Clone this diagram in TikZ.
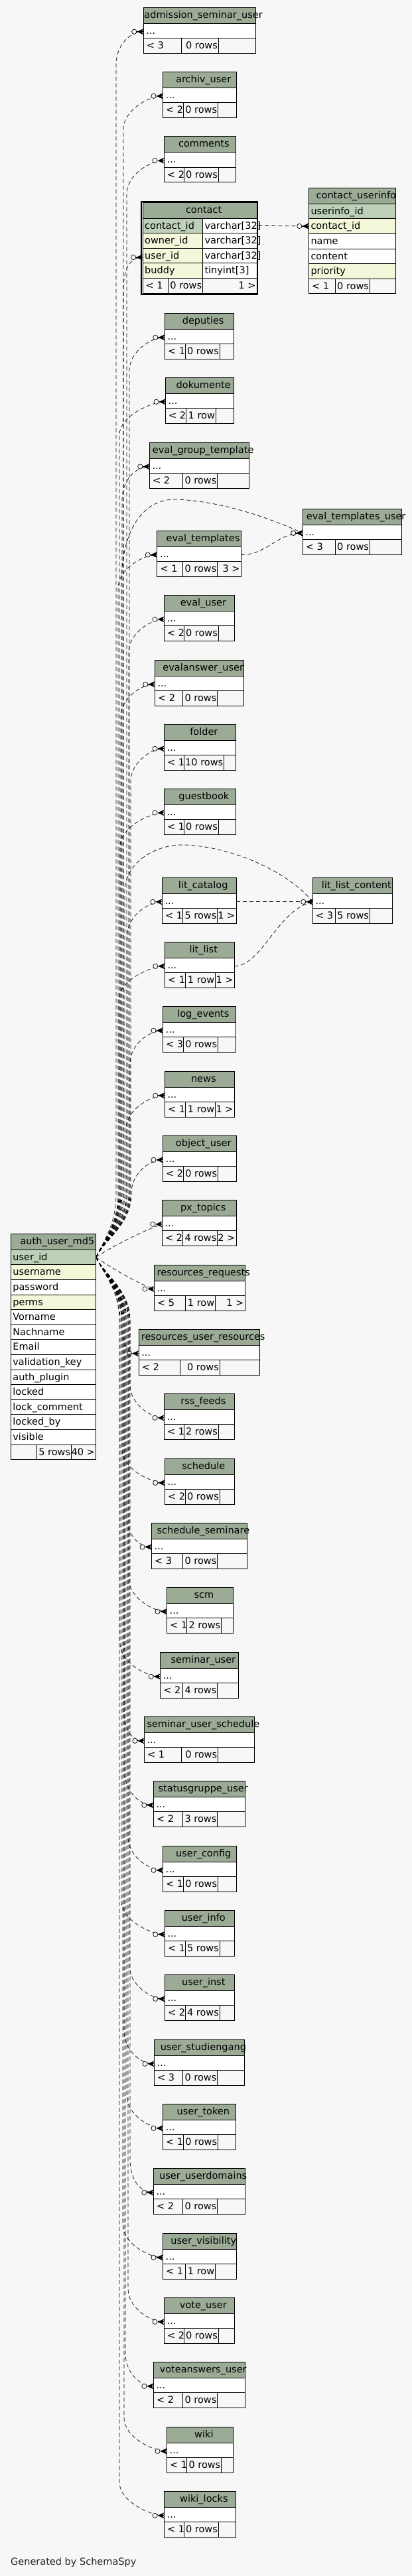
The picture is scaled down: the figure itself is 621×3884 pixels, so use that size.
\documentclass[tikz,border=0pt]{standalone}
\usepackage{fontspec}
\setmainfont{DejaVu Sans}
\usetikzlibrary{calc}
\definecolor{bgcol}{HTML}{F7F7F7}
\definecolor{hdrcol}{HTML}{9BAB96}
\definecolor{pkcol}{HTML}{BED1B8}
\definecolor{idxcol}{HTML}{F4F7DA}
\tikzset{
  tline/.style={draw=black,line width=0.9pt},
  fkline/.style={black,line width=0.7pt,dash pattern=on 6pt off 4pt},
  tabtext/.style={inner sep=0pt,font=\fontsize{14.5}{17}\selectfont,text=black},
}
% header bar of a table: name, left, right, top
\newcommand{\thead}[4]{%
  \path[fill=hdrcol] (#2,#4) rectangle (#3,#4+24);
  \draw[tline] (#2,#4) rectangle (#3,#4+24);
  \node[tabtext,anchor=base] (#1) at ({(#2+#3)/2+6},#4+16) {\detokenize{#1}};
}
% footer: left, right, top, split1, split2, three texts
\newcommand{\tfoot}[8]{%
  \path[fill=bgcol] (#1,#3) rectangle (#2,#3+22.6);
  \draw[tline] (#1,#3) rectangle (#2,#3+22.6) (#4,#3) -- (#4,#3+22.6) (#5,#3) -- (#5,#3+22.6);
  \node[tabtext,anchor=base west] at (#1+4.5,#3+16) {#6};
  \node[tabtext,anchor=base east] at (#5-1,#3+16) {#7};
  \node[tabtext,anchor=base east] at (#2-1.5,#3+16) {#8};
}
% one column cell: left, right, top, fill, text
\newcommand{\colrow}[5]{%
  \path[fill=#4] (#1,#3) rectangle (#2,#3+22.6);
  \draw[tline] (#1,#3) rectangle (#2,#3+22.6);
  \node[tabtext,anchor=base west] at (#1+3,#3+16) {#5};
}
% collapsed table: name, left, right, top, split1, split2, footer texts
\newcommand{\stab}[9]{%
  \thead{#1}{#2}{#3}{#4}
  \path[fill=white] (#2,#4+24) rectangle (#3,#4+46.5);
  \draw[tline] (#2,#4+24) rectangle (#3,#4+46.5);
  \node[tabtext,anchor=base west] at (#2+4,#4+40) {...};
  \coordinate (#1-in) at (#2,#4+36.5);
  \coordinate (#1-out) at (#3,#4+36.5);
  \tfoot{#2}{#3}{#4+46.5}{#5}{#6}{#7}{#8}{#9}
}
% zero-or-many end
\newcommand{\crow}[1]{%
  \draw[line width=0.7pt] ([xshift=-10pt]#1) -- (#1);
  \fill ([xshift=-10pt]#1) -- ([yshift=4.5pt]#1) -- ([xshift=-2.5pt]#1) -- ([yshift=-4.5pt]#1) -- cycle;
  \filldraw[fill=bgcol,line width=0.7pt] ([xshift=-14pt]#1) circle[radius=3.6pt];
}
\newcommand{\fkup}[2]{%
  \draw[fkline] let \p1=(auth-uid), \p2=(#1) in
    (auth-uid) .. controls (\x1+12pt,\y1+25pt) and (#2pt,\y1+50pt) .. (#2pt,\y1+95pt)
    -- (#2pt,\y2-50pt) .. controls (#2pt,\y2-22pt) and (\x2-22pt,\y2) .. (#1);
  \crow{#1}
}
\newcommand{\fkdown}[2]{%
  \draw[fkline] let \p1=(auth-uid), \p2=(#1) in
    (auth-uid) .. controls (\x1+12pt,\y1-25pt) and (#2pt,\y1-50pt) .. (#2pt,\y1-95pt)
    -- (#2pt,\y2+50pt) .. controls (#2pt,\y2+22pt) and (\x2-22pt,\y2) .. (#1);
  \crow{#1}
}
\newcommand{\fknear}[3]{%
  \draw[fkline] (auth-uid) .. controls +(20pt,#2pt) and +(-25pt,#3pt) .. (#1);
  \crow{#1}
}

\begin{document}
\begin{tikzpicture}[x=1pt,y=-1pt]
  \useasboundingbox (0,0) rectangle (621,3884);
  \fill[bgcol] (0,0) rectangle (621,3884);

  % tables of the middle column
  \stab{admission_seminar_user}{216.2}{385}{11.3}{273.3}{329.1}{< 3}{0 rows}{}
  \stab{archiv_user}{245.5}{356}{108.3}{276}{328.3}{< 2}{0 rows}{}
  \stab{comments}{247.5}{355.2}{205.7}{277.2}{329.1}{< 2}{0 rows}{}
  \stab{deputies}{248.3}{352}{472.3}{279.2}{331}{< 1}{0 rows}{}
  \stab{dokumente}{249.5}{352}{569.3}{280.4}{325.1}{< 2}{1 row}{}
  \stab{eval_group_template}{225.3}{375}{667}{275.2}{327.5}{< 2}{0 rows}{}
  \stab{eval_templates}{236.8}{363.2}{800}{275.2}{327.5}{< 1}{0 rows}{3 >}
  \stab{eval_user}{247.5}{353.3}{897.3}{277.2}{329.1}{< 2}{0 rows}{}
  \stab{evalanswer_user}{233.3}{367.1}{995.3}{275.2}{327.5}{< 2}{0 rows}{}
  \stab{folder}{247.5}{355.2}{1092.3}{277.2}{337.4}{< 1}{10 rows}{}
  \stab{guestbook}{247.5}{355.2}{1189}{277.2}{329.1}{< 1}{0 rows}{}
  \stab{lit_catalog}{244.4}{356}{1323.3}{275.2}{327.5}{< 1}{5 rows}{1 >}
  \stab{lit_list}{248.3}{353.3}{1420.3}{279.2}{324.4}{< 1}{1 row}{1 >}
  \stab{log_events}{245.5}{355.2}{1517.3}{276}{328.3}{< 3}{0 rows}{}
  \stab{news}{248.3}{353.3}{1615.3}{279.2}{324.4}{< 1}{1 row}{1 >}
  \stab{object_user}{245.5}{356}{1712.3}{276}{328.3}{< 2}{0 rows}{}
  \stab{px_topics}{244.4}{356}{1809.3}{275.2}{327.5}{< 2}{4 rows}{2 >}
  \stab{resources_requests}{232.5}{369.1}{1907}{279.2}{324.4}{< 5}{1 row}{1 >}
  \stab{resources_user_resources}{209.1}{391.3}{2004.3}{271.3}{331.1}{< 2}{0 rows}{}
  \stab{rss_feeds}{247.5}{353.3}{2101.3}{277.2}{329.1}{< 1}{2 rows}{}
  \stab{schedule}{248.3}{353.3}{2199.3}{279.2}{331}{< 2}{0 rows}{}
  \stab{schedule_seminare}{228.5}{372.3}{2296}{275.2}{327.5}{< 3}{0 rows}{}
  \stab{scm}{251.5}{351.3}{2393.3}{281.6}{333.5}{< 1}{2 rows}{}
  \stab{seminar_user}{241.6}{359.2}{2491.3}{275.2}{327.5}{< 2}{4 rows}{}
  \stab{seminar_user_schedule}{217.4}{383.4}{2588.3}{273.3}{328.3}{< 1}{0 rows}{}
  \stab{statusgruppe_user}{231.3}{369.1}{2685.3}{275.2}{327.5}{< 2}{3 rows}{}
  \stab{user_config}{245.5}{356}{2783.3}{276}{328.3}{< 1}{0 rows}{}
  \stab{user_info}{248.3}{353.3}{2880}{279.2}{331}{< 1}{5 rows}{}
  \stab{user_inst}{248.3}{353.3}{2977.3}{279.2}{331}{< 2}{4 rows}{}
  \stab{user_studiengang}{232.5}{368.3}{3075.3}{275.2}{327.5}{< 3}{0 rows}{}
  \stab{user_token}{245.5}{355.2}{3172.3}{276}{328.3}{< 1}{0 rows}{}
  \stab{user_userdomains}{231.3}{369.1}{3269.3}{275.2}{327.5}{< 2}{0 rows}{}
  \stab{user_visibility}{245.5}{356}{3367.3}{279.2}{324.4}{< 1}{1 row}{}
  \stab{vote_user}{247.5}{353.3}{3464.3}{277.2}{329.1}{< 2}{0 rows}{}
  \stab{voteanswers_user}{231.3}{369.1}{3561.3}{275.2}{327.5}{< 2}{0 rows}{}
  \stab{wiki}{251.5}{351.3}{3659.3}{281.6}{333.5}{< 1}{0 rows}{}
  \stab{wiki_locks}{247.5}{355.2}{3756.3}{277.2}{329.1}{< 1}{0 rows}{}

  % right column
  \stab{eval_templates_user}{456.2}{605.1}{767.3}{505.3}{557.2}{< 3}{0 rows}{}
  \stab{lit_list_content}{471.3}{591.3}{1323.3}{505.3}{557.2}{< 3}{5 rows}{}

  % contact, the selected table
  \draw[line width=2pt] (213.3,303.7) rectangle (388.4,444.3);
  \thead{contact}{215}{387.3}{305}
  \colrow{215}{305.3}{329}{pkcol}{contact\_id}
  \colrow{305.3}{387.3}{329}{white}{varchar[32]}
  \colrow{215}{305.3}{351.6}{idxcol}{owner\_id}
  \colrow{305.3}{387.3}{351.6}{white}{varchar[32]}
  \colrow{215}{305.3}{374.2}{idxcol}{user\_id}
  \colrow{305.3}{387.3}{374.2}{white}{varchar[32]}
  \colrow{215}{305.3}{396.8}{idxcol}{buddy}
  \colrow{305.3}{387.3}{396.8}{white}{tinyint[3]}
  \tfoot{215}{387.3}{419.4}{253.5}{305.3}{< 1}{0 rows}{1 >}
  \coordinate (contact-in) at (215,388);
  \coordinate (contact-cid) at (389.4,340.4);

  \thead{contact_userinfo}{465.3}{596.4}{283.3}
  \colrow{465.3}{596.4}{307.3}{pkcol}{userinfo\_id}
  \colrow{465.3}{596.4}{329.9}{idxcol}{contact\_id}
  \colrow{465.3}{596.4}{352.5}{white}{name}
  \colrow{465.3}{596.4}{375.1}{white}{content}
  \colrow{465.3}{596.4}{397.7}{idxcol}{priority}
  \tfoot{465.3}{596.4}{420.3}{505.3}{557.2}{< 1}{0 rows}{}
  \coordinate (contact_userinfo-in) at (465.3,341);

  % auth_user_md5 on the left
  \thead{auth_user_md5}{16.2}{144.6}{1860.3}
  \foreach \txt/\col [count=\i from 0] in {user\_id/pkcol,username/idxcol,
      password/white,perms/idxcol,Vorname/white,Nachname/white,Email/white,
      validation\_key/white,auth\_plugin/white,locked/white,
      lock\_comment/white,locked\_by/white,visible/white}
    \colrow{16.2}{144.6}{1884.3+22.6*\i}{\col}{\txt};
  \tfoot{16.2}{144.6}{2178.1}{55.4}{107.3}{}{5 rows}{40 >}
  \coordinate (auth-uid) at (144.6,1895.6);

  % relationships from auth_user_md5.user_id
  \fkup{admission_seminar_user-in}{175}
  \fkup{archiv_user-in}{186}
  \fkup{comments-in}{191}
  \fkup{contact-in}{186}
  \fkup{deputies-in}{195}
  \fkup{dokumente-in}{180}
  \fkup{eval_group_template-in}{184}
  \fkup{eval_templates-in}{178}
  \fkup{eval_user-in}{194}
  \fkup{evalanswer_user-in}{182}
  \fkup{folder-in}{197}
  \fkup{guestbook-in}{181}
  \fkup{lit_catalog-in}{192}
  \fkup{lit_list-in}{179}
  \fkup{log_events-in}{196}
  \fkup{news-in}{190}
  \fkup{object_user-in}{198}
  \fknear{px_topics-in}{14}{-8}
  \fknear{resources_requests-in}{-14}{8}
  \fkdown{resources_user_resources-in}{183}
  \fkdown{rss_feeds-in}{196}
  \fkdown{schedule-in}{184}
  \fkdown{schedule_seminare-in}{190}
  \fkdown{scm-in}{194}
  \fkdown{seminar_user-in}{181}
  \fkdown{seminar_user_schedule-in}{186}
  \fkdown{statusgruppe_user-in}{188}
  \fkdown{user_config-in}{193}
  \fkdown{user_info-in}{183}
  \fkdown{user_inst-in}{195}
  \fkdown{user_studiengang-in}{187}
  \fkdown{user_token-in}{191}
  \fkdown{user_userdomains-in}{196}
  \fkdown{user_visibility-in}{185}
  \fkdown{vote_user-in}{193}
  \fkdown{voteanswers_user-in}{189}
  \fkdown{wiki-in}{187}
  \fkdown{wiki_locks-in}{180}

  % the longer ones
  \draw[fkline] (auth-uid) .. controls +(12pt,25pt) and (183,1845) .. (183,1800)
    -- (183,880) .. controls (183,800) and (215,752) .. (265,753)
    .. controls (330,755) and (405,780) .. (eval_templates_user-in);
  \crow{eval_templates_user-in}
  \draw[fkline] (eval_templates-out) .. controls +(40pt,0pt) and +(-40pt,0pt) .. (eval_templates_user-in);
  \crow{eval_templates_user-in}
  \draw[fkline] (auth-uid) .. controls +(12pt,25pt) and (188,1845) .. (188,1800)
    -- (188,1345) .. controls (188,1300) and (235,1272) .. (280,1274)
    .. controls (360,1278) and (440,1320) .. (lit_list_content-in);
  \draw[fkline] (lit_catalog-out) -- (lit_list_content-in);
  \draw[fkline] (lit_list-out) .. controls (395,1456) and (418,1372) .. (lit_list_content-in);
  \crow{lit_list_content-in}
  \draw[fkline] (contact-cid) -- (contact_userinfo-in);
  \crow{contact_userinfo-in}

  \node[tabtext,anchor=base west,text=black!85] (credit) at (16,3867) {Generated by SchemaSpy};
\end{tikzpicture}
\end{document}
